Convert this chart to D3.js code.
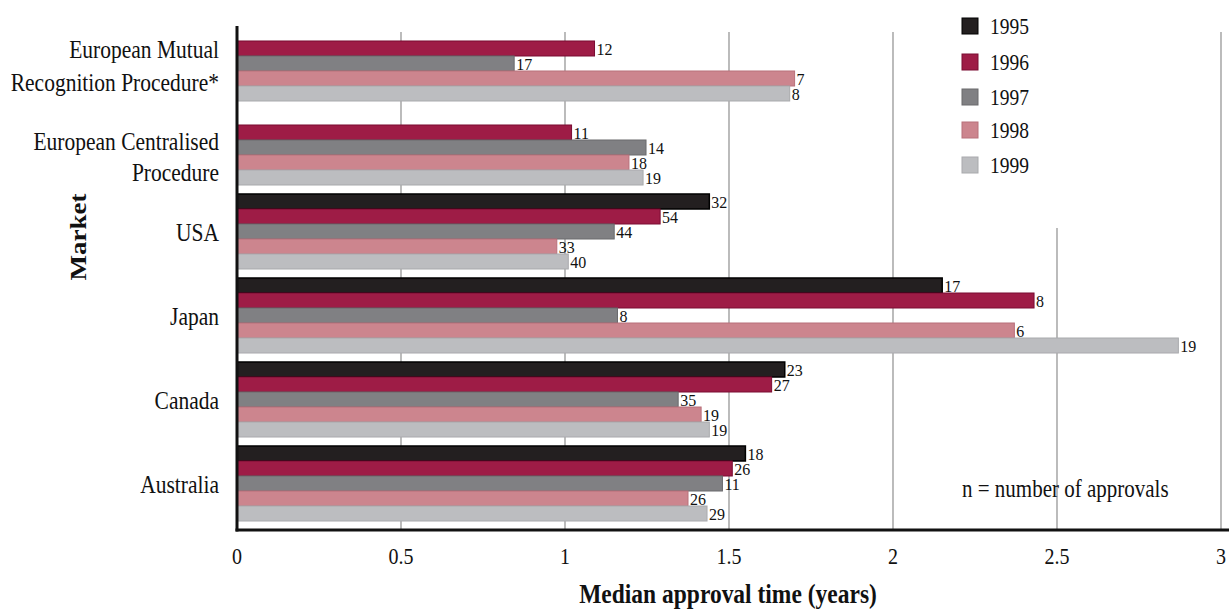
<!DOCTYPE html>
<html>
<head>
<meta charset="utf-8">
<script src="https://cdn.jsdelivr.net/npm/d3@7/dist/d3.min.js"></script>
<style>
  html, body { margin: 0; padding: 0; background: #fff; }
  svg { display: block; }
  text { font-family: "Liberation Serif", "DejaVu Serif", serif; fill: #111; }
</style>
</head>
<body>
<svg id="chart" width="1229" height="610"></svg>
<script>
// ---- data ----
const markets = ["European Mutual Recognition Procedure*", "European Centralised Procedure", "USA", "Japan", "Canada", "Australia"];
const marketLines = [["European Mutual", "Recognition Procedure*"], ["European Centralised", "Procedure"], ["USA"], ["Japan"], ["Canada"], ["Australia"]];
const years = ["1995", "1996", "1997", "1998", "1999"];
// median approval time (years); null = no bar
const time1995 = [null, null, 1.44, 2.15, 1.67, 1.55];
const time1996 = [1.09, 1.02, 1.29, 2.43, 1.63, 1.51];
const time1997 = [0.845, 1.247, 1.15, 1.16, 1.345, 1.48];
const time1998 = [1.70, 1.195, 0.975, 2.37, 1.415, 1.375];
const time1999 = [1.685, 1.238, 1.01, 2.87, 1.44, 1.433];
// number of approvals (bar labels)
const n1995 = [null, null, 32, 17, 23, 18];
const n1996 = [12, 11, 54, 8, 27, 26];
const n1997 = [17, 14, 44, 8, 35, 11];
const n1998 = [7, 18, 33, 6, 19, 26];
const n1999 = [8, 19, 40, 19, 19, 29];
const xTicks = [0, 0.5, 1, 1.5, 2, 2.5, 3];
const xTickLabels = ["0", "0.5", "1", "1.5", "2", "2.5", "3"];
const colors = ["#231f20", "#9e1c46", "#808083", "#cc858e", "#bcbdc0"];
const strokes = ["#000000", "#7a0c32", "#6a6a6d", "#b8707a", "#a9aaad"];

const timeSeries = [time1995, time1996, time1997, time1998, time1999];
const nSeries = [n1995, n1996, n1997, n1998, n1999];

// ---- layout ----
const svg = d3.select("#chart");
const X0 = 237, X1 = 1221, YTOP = 17, YBOT = 530;
const SY = 1.2; // vertical stretch of the reference text

const x = d3.scaleLinear().domain([0, 3]).range([X0, X1]);
const y0 = d3.scaleBand().domain(markets).range([YTOP, YBOT]).paddingInner(0.107).paddingOuter(0.107);
const y1 = d3.scaleBand().domain(years).range([0, y0.bandwidth()]);

// text helper: places text at (px,py) with vertical stretch
function stext(g, px, py, str, size, anchor, weight, sy) {
  return g.append("text")
    .attr("transform", `translate(${px},${py}) scale(1,${sy || SY})`)
    .attr("dy", "0.35em")
    .attr("text-anchor", anchor || "start")
    .attr("font-size", size)
    .attr("font-weight", weight || "normal")
    .text(str);
}

svg.append("rect").attr("width", 1229).attr("height", 610).attr("fill", "#fff");

// gridlines
svg.append("g").selectAll("line").data(xTicks.filter(d => d > 0)).join("line")
  .attr("x1", d => x(d)).attr("x2", d => x(d))
  .attr("y1", 32).attr("y2", YBOT)
  .attr("stroke", "#ababab").attr("stroke-width", 1.6);

// legend background (hides gridline behind legend)
svg.append("rect").attr("x", 945).attr("y", 0).attr("width", 125).attr("height", 228).attr("fill", "#fff");

// bars
const barData = [];
markets.forEach((m, i) => {
  years.forEach((yr, j) => {
    const v = timeSeries[j][i];
    if (v !== null) barData.push({ m, yr, j, v, n: nSeries[j][i] });
  });
});

const gBars = svg.append("g");
gBars.selectAll("rect").data(barData).join("rect")
  .attr("x", x(0))
  .attr("y", d => y0(d.m) + y1(d.yr))
  .attr("width", d => x(d.v) - x(0))
  .attr("height", y1.bandwidth())
  .attr("fill", d => colors[d.j])
  .attr("stroke", d => strokes[d.j])
  .attr("stroke-width", d => d.j === 0 ? 1.5 : 1);

const gLab = svg.append("g");
barData.forEach(d => {
  stext(gLab, x(d.v) + 2, y0(d.m) + y1(d.yr) + y1.bandwidth() / 2 + 0.5, d.n, 16, "start", "normal", 1.1);
});

// axes lines
svg.append("line").attr("x1", X0).attr("x2", X0).attr("y1", 26).attr("y2", YBOT + 1.5)
  .attr("stroke", "#111").attr("stroke-width", 3);
svg.append("line").attr("x1", X0 - 1.5).attr("x2", 1229).attr("y1", YBOT).attr("y2", YBOT)
  .attr("stroke", "#111").attr("stroke-width", 3);

// x tick labels
const gTick = svg.append("g");
xTicks.forEach((d, i) => stext(gTick, x(d), 556, xTickLabels[i], 20, "middle"));

// category labels
const lineOffsets = [[-15, 18], [-7, 24]];
const gCat = svg.append("g");
markets.forEach((m, i) => {
  const cy = y0(m) + y0.bandwidth() / 2;
  const lines = marketLines[i];
  lines.forEach((t, k) => {
    const off = lines.length === 1 ? 0 : lineOffsets[i][k];
    stext(gCat, 219, cy + off, t, 21.5, "end");
  });
});

// axis titles
stext(svg, 728, 594, "Median approval time (years)", 23.5, "middle", "bold", 1.12);
svg.append("text").attr("transform", `translate(78,237) rotate(-90) scale(${SY},1)`).attr("dy", "0.35em")
  .attr("text-anchor", "middle").attr("font-size", 22.5).attr("font-weight", "bold")
  .text("Market");

// legend
const gLeg = svg.append("g");
const legY = [26, 62, 97, 130, 165];
years.forEach((yr, j) => {
  gLeg.append("rect").attr("x", 962).attr("y", legY[j] - 8).attr("width", 16).attr("height", 16)
    .attr("fill", colors[j]).attr("stroke", strokes[j]).attr("stroke-width", 1);
  stext(gLeg, 990, legY[j], yr, 19.5, "start");
});

// note
stext(svg, 962, 488, "n = number of approvals", 21, "start");
</script>
</body>
</html>
